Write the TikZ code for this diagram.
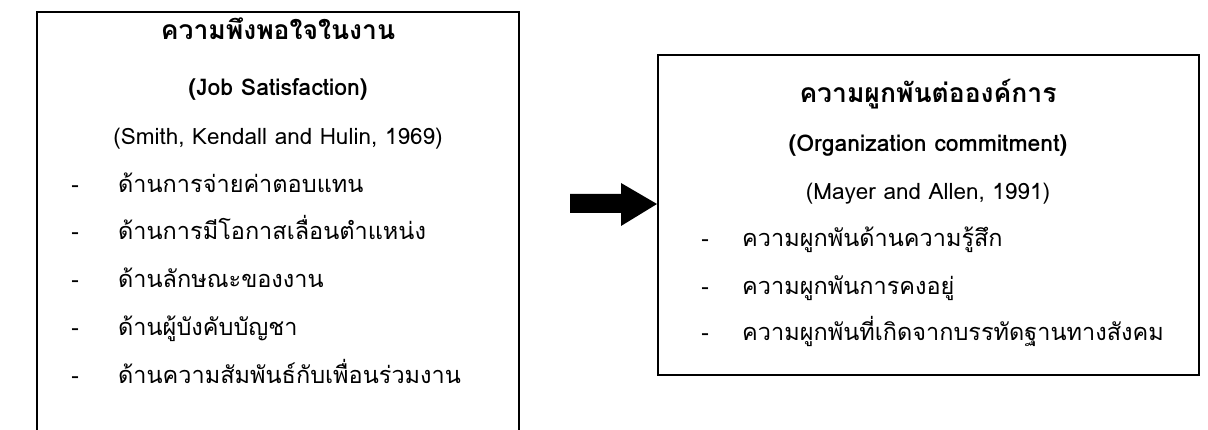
\documentclass[tikz,border=0pt]{standalone}
\usepackage{fontspec}
\setmainfont[Script=Thai]{Loma}
\begin{document}
\begin{tikzpicture}[x=1pt,y=1pt,
  txt/.style={inner sep=0pt, font=\fontsize{23.5}{28}\selectfont},
  lat/.style={inner sep=0pt, font=\fontsize{22.5}{27}\selectfont},
  ttl/.style={txt, anchor=base, font=\fontsize{26.5}{30}\selectfont\bfseries},
  lttl/.style={lat, anchor=base, font=\fontsize{23}{27}\selectfont\bfseries},
  sub/.style={lat, anchor=base},
  dsh/.style={lat, anchor=base},
  itm/.style={txt, anchor=base west},
  box/.style={line width=1.5pt, draw=black}]
\useasboundingbox (0,0) rectangle (1208,430);
% left box (bottom runs past the picture)
\draw[box] (37,-5) |- (519,418) -- (519,-5);
\node[ttl] (lt1) at (278,390) {ความพึงพอใจในงาน};
\node[lttl] (lt2) at (278,334) {(Job Satisfaction)};
\node[sub] (lt3) at (278,285) {(Smith, Kendall and Hulin, 1969)};
\node[dsh] (ld1) at (75,237) {-};
\node[dsh] (ld2) at (75,190) {-};
\node[dsh] (ld3) at (75,142) {-};
\node[dsh] (ld4) at (75,94) {-};
\node[dsh] (ld5) at (75,46) {-};
\node[itm] (li1) at (118,237) {ด้านการจ่ายค่าตอบแทน};
\node[itm] (li2) at (118,190) {ด้านการมีโอกาสเลื่อนตำแหน่ง};
\node[itm] (li3) at (118,142) {ด้านลักษณะของงาน};
\node[itm] (li4) at (118,94) {ด้านผู้บังคับบัญชา};
\node[itm] (li5) at (118,46) {ด้านความสัมพันธ์กับเพื่อนร่วมงาน};
% arrow
\fill (570,217) -- (621,217) -- (621,204) -- (657,226) -- (621,247) -- (621,236) -- (570,236) -- cycle;
% right box
\node[box, minimum width=541pt, minimum height=320pt, inner sep=0pt] (rb) at (928.5,215) {};
\node[ttl] (rt1) at (928,327) {ความผูกพันต่อองค์การ};
\node[lttl] (rt2) at (928,278) {(Organization commitment)};
\node[sub] (rt3) at (928,230) {(Mayer and Allen, 1991)};
\node[dsh] (rd1) at (705,183) {-};
\node[dsh] (rd2) at (705,135) {-};
\node[dsh] (rd3) at (705,89) {-};
\node[itm] (ri1) at (742,183) {ความผูกพันด้านความรู้สึก};
\node[itm] (ri2) at (742,135) {ความผูกพันการคงอยู่};
\node[itm] (ri3) at (742,89) {ความผูกพันที่เกิดจากบรรทัดฐานทางสังคม};
\end{tikzpicture}
\end{document}
